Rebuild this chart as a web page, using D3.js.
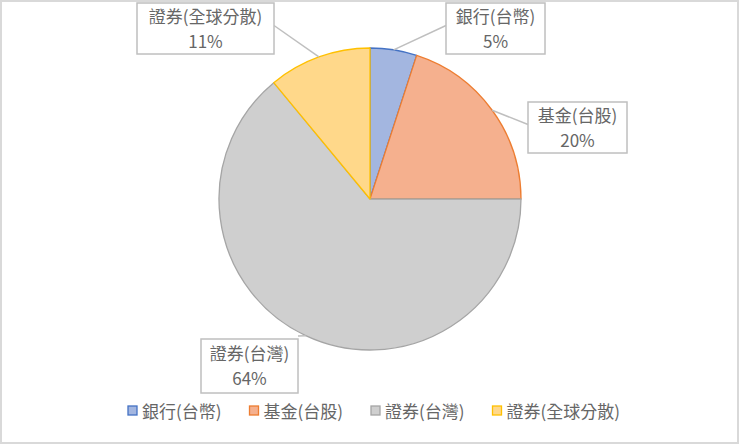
<!DOCTYPE html>
<html>
<head>
<meta charset="utf-8">
<title>pie</title>
<script src="https://cdn.jsdelivr.net/npm/d3@7"></script>
<style>
html, body { margin: 0; padding: 0; background: #fff; }
svg { display: block; }
</style>
</head>
<body>
<div id="chart"></div>
<script>
// data
var categories = ["銀行(台幣)", "基金(台股)", "證券(台灣)", "證券(全球分散)"];
var values = [5, 20, 64, 11];
var strokeColors = ["#4472c4", "#ed7d31", "#a5a5a5", "#ffc000"];
var fillColors = ["#a3b6e0", "#f5b08e", "#cfcfcf", "#ffd88a"];

// label box layout (Excel placed them by hand)
var labelBoxes = [
	{x: 446, y: 3, w: 99, h: 51, anchor: "left"},
	{x: 528, y: 102, w: 99, h: 51, anchor: "left"},
	{x: 201, y: 339, w: 97, h: 54, anchor: "topright"},
	{x: 137, y: 3, w: 137, h: 51, anchor: "right"}
];

var width = 740, height = 445;
var cx = 370, cy = 199, radius = 151;
var font = "'Noto Sans CJK TC', 'Noto Sans CJK SC', sans-serif";
var textColor = "#666666";
var fs = 17;

var svg = d3.select("#chart").append("svg")
	.attr("width", width)
	.attr("height", height);

svg.append("rect")
	.attr("x", 1).attr("y", 1)
	.attr("width", width - 3).attr("height", height - 3)
	.attr("fill", "#fff")
	.attr("stroke", "#d9d9d9")
	.attr("stroke-width", 2);

var pie = d3.pie().sort(null).value(d => d);
var arcs = pie(values);
var arc = d3.arc().innerRadius(0).outerRadius(radius);

var g = svg.append("g").attr("transform", `translate(${cx},${cy})`);

g.selectAll("path")
	.data(arcs)
	.join("path")
	.attr("d", arc)
	.attr("fill", (d, i) => fillColors[i])
	.attr("stroke", (d, i) => strokeColors[i])
	.attr("stroke-width", 1.3)
	.attr("stroke-linejoin", "round");

var total = d3.sum(values);

// leader lines
svg.append("g")
	.selectAll("line")
	.data(arcs)
	.join("line")
	.each(function(d, i) {
		var p = d3.pointRadial((d.startAngle + d.endAngle) / 2, radius);
		var b = labelBoxes[i];
		var ax, ay;
		if (b.anchor === "left") { ax = b.x; ay = b.y + b.h / 2 - 3; }
		else if (b.anchor === "right") { ax = b.x + b.w; ay = b.y + b.h / 2 - 3; }
		else { ax = b.x + b.w; ay = b.y - 3; }
		d3.select(this)
			.attr("x1", ax).attr("y1", ay)
			.attr("x2", cx + p[0]).attr("y2", cy + p[1]);
	})
	.attr("stroke", "#bfbfbf")
	.attr("stroke-width", 1.5);

// label boxes
var lab = svg.append("g")
	.selectAll("g")
	.data(arcs)
	.join("g")
	.attr("transform", (d, i) => `translate(${labelBoxes[i].x},${labelBoxes[i].y})`);

lab.append("rect")
	.attr("width", (d, i) => labelBoxes[i].w)
	.attr("height", (d, i) => labelBoxes[i].h)
	.attr("fill", "#fff")
	.attr("stroke", "#bfbfbf")
	.attr("stroke-width", 1.5);

// two-line label: name, then percent
var lt = lab.append("text")
	.attr("text-anchor", "middle")
	.attr("font-family", font)
	.attr("font-size", fs)
	.attr("fill", textColor);

lt.append("tspan")
	.attr("x", (d, i) => labelBoxes[i].w / 2)
	.attr("y", (d, i) => labelBoxes[i].h / 2 - 6)
	.text((d, i) => categories[i]);

lt.append("tspan")
	.attr("x", (d, i) => labelBoxes[i].w / 2)
	.attr("y", (d, i) => labelBoxes[i].h / 2 + 19)
	.text(d => Math.round(d.value / total * 100) + "%");

// legend
var legend = svg.append("g").attr("transform", "translate(0,411)");
var items = legend.selectAll("g")
	.data(categories)
	.join("g");

items.append("rect")
	.attr("x", 0).attr("y", -5)
	.attr("width", 9).attr("height", 9)
	.attr("fill", (d, i) => fillColors[i])
	.attr("stroke", (d, i) => strokeColors[i])
	.attr("stroke-width", 1.3);

items.append("text")
	.attr("x", 14)
	.attr("y", 6.5)
	.attr("font-family", font)
	.attr("font-size", fs)
	.attr("fill", textColor)
	.text(d => d);

var xPos = [], acc = 0, gap = 28;
items.each(function() {
	xPos.push(acc);
	acc += this.getBBox().width + gap;
});
acc -= gap;
var start = 374 - acc / 2;
items.attr("transform", (d, i) => `translate(${start + xPos[i]},0)`);
</script>
</body>
</html>
